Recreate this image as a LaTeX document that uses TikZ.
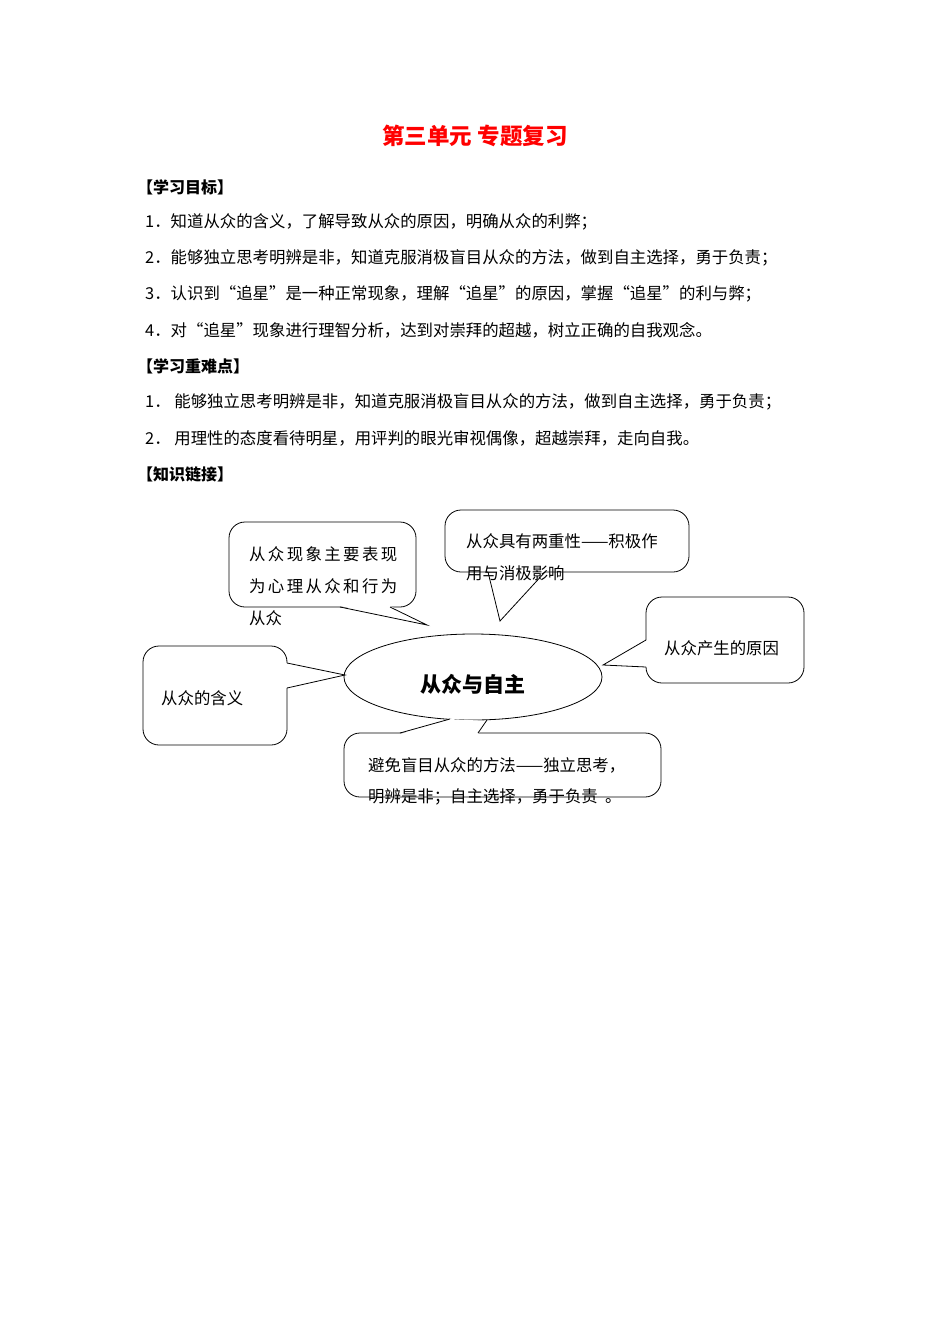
\documentclass[tikz,border=0pt]{standalone}
\usepackage{fontspec}
\setmainfont{Noto Sans CJK SC}
\begin{document}
\begin{tikzpicture}[x=1pt,y=-1pt,
  txt/.style={anchor=west,inner sep=0pt,font=\fontsize{16.4}{19}\selectfont},
  hdr/.style={anchor=west,inner sep=0pt,font=\fontsize{16}{19}\selectfont\bfseries},
  bub/.style={draw,rounded corners=16pt,line width=0.8pt},
  ptr/.style={line width=0.8pt}]
\useasboundingbox[fill=white] (0,0) rectangle (950,1344);
\node[inner sep=0pt,text=red,font=\fontsize{22.5}{26}\selectfont\bfseries] (title) at (475,136) {第三单元\ 专题复习};
\node[hdr] (h1) at (137,187) {【学习目标】};
\node[txt] (l1) at (145,222) {1．知道从众的含义，了解导致从众的原因，明确从众的利弊；};
\node[txt] (l2) at (145,258) {2．能够独立思考明辨是非，知道克服消极盲目从众的方法，做到自主选择，勇于负责；};
\node[txt] (l3) at (145,294) {3．认识到“追星”是一种正常现象，理解“追星”的原因，掌握“追星”的利与弊；};
\node[txt] (l4) at (145,330) {4．对“追星”现象进行理智分析，达到对崇拜的超越，树立正确的自我观念。};
\node[hdr] (h2) at (137,366) {【学习重难点】};
\node[txt] (m1) at (145,402) {1． 能够独立思考明辨是非，知道克服消极盲目从众的方法，做到自主选择，勇于负责；};
\node[txt] (m2) at (145,438) {2． 用理性的态度看待明星，用评判的眼光审视偶像，超越崇拜，走向自我。};
\node[hdr] (h3) at (137,474) {【知识链接】};
\draw[line width=0.8pt] (473,677) ellipse [x radius=129,y radius=43];
\node[inner sep=0pt,font=\fontsize{21}{24}\selectfont\bfseries] (c) at (473,684) {从众与自主};
\draw[bub] (229,522) rectangle (416,607);
\fill[white] (340,606) -- (427,625) -- (390,606) -- cycle;
\draw[ptr] (340,607) -- (427,625) -- (390,607);
\node[txt] (b1a) at (249,554) {从\hskip2.4pt 众\hskip2.4pt 现\hskip2.4pt 象\hskip2.4pt 主\hskip2.4pt 要\hskip2.4pt 表\hskip2.4pt 现};
\node[txt] (b1b) at (249,586) {为\hskip2.4pt 心\hskip2.4pt 理\hskip2.4pt 从\hskip2.4pt 众\hskip2.4pt 和\hskip2.4pt 行\hskip2.4pt 为};
\node[txt] (b1c) at (249,618) {从众};
\draw[bub] (445,510) rectangle (689,572);
\fill[white] (488,571) -- (500,621) -- (545,571) -- cycle;
\draw[ptr] (488,572) -- (500,621) -- (545,572);
\node[txt] (b2a) at (466,541) {从众具有两重性——积极作};
\node[txt] (b2b) at (466,573) {用与消极影响};
\draw[bub] (646,597) rectangle (804,683);
\fill[white] (647,640) -- (603,665) -- (647,667) -- cycle;
\draw[ptr] (646,640) -- (603,665) -- (646,667);
\node[txt] (b3) at (664,648) {从众产生的原因};
\draw[bub] (143,646) rectangle (287,745);
\fill[white] (286,663) -- (345,675) -- (286,688) -- cycle;
\draw[ptr] (287,663) -- (345,675) -- (287,688);
\node[txt] (b4) at (161,698) {从众的含义};
\draw[bub] (344,733) rectangle (661,797);
\fill[white] (400,734) -- (450,719) -- (487,721) -- (478,734) -- cycle;
\draw[ptr] (400,733) -- (450,719);
\draw[ptr] (487,720) -- (478,733);
\node[txt] (b5a) at (368,765) {避免盲目从众的方法——独立思考，};
\node[txt] (b5b) at (368,797) {明辨是非；自主选择，勇于负责\ \ 。};
\end{tikzpicture}
\end{document}
